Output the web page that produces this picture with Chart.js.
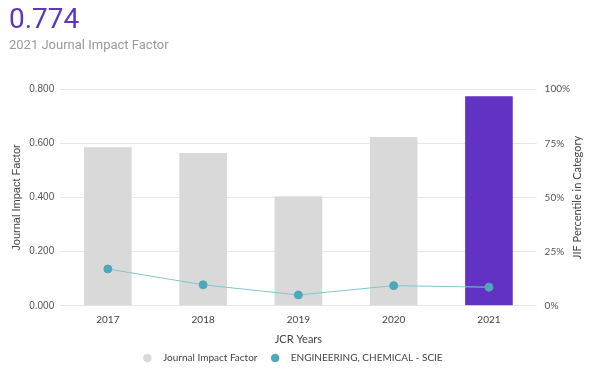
<!DOCTYPE html>
<html>
<head>
<meta charset="utf-8">
<script src="https://cdn.jsdelivr.net/npm/chart.js@4"></script>
<style>
  html, body { margin: 0; padding: 0; background: #fff; }
</style>
</head>
<body>
<canvas id="myChart" width="606" height="373"></canvas>
<script>
    // Dados do gráfico
    var years = ['2017', '2018', '2019', '2020', '2021'];
    var impactFactor = [0.586, 0.564, 0.405, 0.623, 0.774];
    var percentile = [17.0, 9.7, 5.0, 9.3, 8.6];
    var barColors = ['#d9d9d9', '#d9d9d9', '#d9d9d9', '#d9d9d9', '#6132c4'];
    var legendColors = ['#d9d9d9', '#4ea8ba'];

    // Título do eixo da direita (lido de baixo para cima, como no original)
    var rightTitle = {
        id: 'rightTitle',
        afterDraw: function (chart) {
            var c = chart.ctx;
            var area = chart.chartArea;
            c.save();
            c.translate(577, (area.top + area.bottom) / 2);
            c.rotate(-Math.PI / 2);
            c.textAlign = 'center';
            c.textBaseline = 'middle';
            c.fillStyle = '#444';
            c.font = '11px Lato';
            c.fillText('JIF Percentile in Category', 0, 0);
            c.restore();
        }
    };

    var ctx = document.getElementById('myChart').getContext('2d');
    var myChart = new Chart(ctx, {
        type: 'bar',
        data: {
            labels: years,
            datasets: [{
                type: 'bar',
                label: 'Journal Impact Factor',
                data: impactFactor,
                backgroundColor: barColors,
                yAxisID: 'y',
                barPercentage: 0.5,
                categoryPercentage: 1,
                pointStyle: 'circle',
                order: 2
            }, {
                type: 'line',
                label: 'ENGINEERING, CHEMICAL - SCIE',
                data: percentile,
                yAxisID: 'y1',
                borderColor: '#86c4d0',
                borderWidth: 1,
                backgroundColor: '#4ea8ba',
                pointBackgroundColor: '#4ea8ba',
                pointBorderColor: '#4ea8ba',
                pointRadius: 4,
                pointStyle: 'circle',
                order: 1
            }]
        },
        plugins: [rightTitle],
        options: {
            responsive: false,
            animation: false,
            layout: { padding: { left: 9, right: 28, top: 0, bottom: 0 } },
            plugins: {
                title: {
                    display: true,
                    text: '0.774',
                    align: 'start',
                    color: '#5e35c1',
                    font: { family: 'Roboto', size: 28, weight: 'normal' },
                    padding: { top: 4, bottom: 0 }
                },
                subtitle: {
                    display: true,
                    text: '2021 Journal Impact Factor',
                    align: 'start',
                    color: '#9a9a9a',
                    font: { family: 'Roboto', size: 13 },
                    padding: { top: 0, bottom: 36 }
                },
                legend: {
                    position: 'bottom',
                    labels: {
                        usePointStyle: true,
                        boxWidth: 6,
                        boxHeight: 6,
                        padding: 7,
                        color: '#444',
                        font: { family: 'Lato', size: 10 },
                        sort: function (a, b) { return a.datasetIndex - b.datasetIndex; },
                        generateLabels: function (chart) {
                            var items = Chart.defaults.plugins.legend.labels.generateLabels(chart);
                            items.forEach(function (it) {
                                var c = legendColors[it.datasetIndex];
                                it.fillStyle = c;
                                it.strokeStyle = 'rgba(0,0,0,0)';
                                it.lineWidth = 0;
                                it.text = '   ' + it.text + (it.datasetIndex === 0 ? '   ' : '');
                            });
                            return items;
                        }
                    }
                },
                tooltip: { enabled: false }
            },
            scales: {
                x: {
                    grid: { display: false, drawTicks: false },
                    border: { display: false },
                    ticks: { color: '#444', font: { family: 'Lato', size: 10, lineHeight: 1 }, padding: 8.5 },
                    title: {
                        display: true,
                        text: 'JCR Years',
                        color: '#444',
                        font: { family: 'Lato', size: 11 },
                        padding: { top: 0, bottom: 0 }
                    }
                },
                y: {
                    position: 'left',
                    min: 0,
                    max: 0.8,
                    ticks: {
                        stepSize: 0.2,
                        color: '#555',
                        padding: 6,
                        font: { family: 'Liberation Sans', size: 10 },
                        callback: function (v) { return v.toFixed(3); }
                    },
                    grid: { color: '#e6e6e6', drawTicks: false },
                    border: { display: false },
                    title: {
                        display: true,
                        text: 'Journal Impact Factor',
                        color: '#444',
                        font: { family: 'Liberation Sans', size: 11 },
                        padding: { top: 1, bottom: 0 }
                    }
                },
                y1: {
                    position: 'right',
                    min: 0,
                    max: 100,
                    ticks: {
                        stepSize: 25,
                        color: '#555',
                        padding: 8,
                        font: { family: 'Lato', size: 10 },
                        callback: function (v) { return v + '%'; }
                    },
                    grid: { display: false, drawTicks: false },
                    border: { display: false }
                }
            }
        }
    });
</script>
</body>
</html>
